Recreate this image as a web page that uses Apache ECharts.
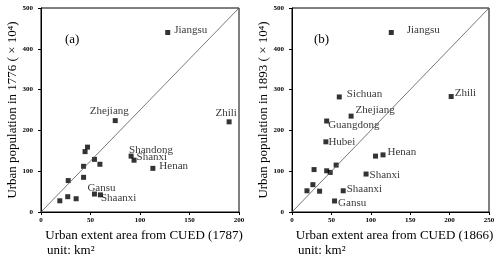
<!DOCTYPE html>
<html>
<head>
<meta charset="utf-8">
<script src="https://cdn.jsdelivr.net/npm/echarts@6/dist/echarts.min.js"></script>
<style>
html,body{margin:0;padding:0;background:#fff;}
#c{width:500px;height:258px;}
</style>
</head>
<body>
<div id="c"></div>
<script>
// ---- Data: panel (a) ----
const namesA = ['Jiangsu','Zhejiang','Zhili','Shandong','Shanxi','Henan','Gansu','Shaanxi','','','','','','','','','',''];
const areaA  = [128, 75, 190, 91, 94, 113, 54, 60, 47, 44.5, 54, 59.5, 43, 43, 27.5, 27, 35.5, 19];
const popA   = [440, 224, 221, 137, 127, 107, 44, 42, 159, 148, 129, 117, 112, 85, 77, 37.5, 32.5, 27.5];
// ---- Data: panel (b) ----
const namesB = ['Jiangsu','Sichuan','Zhili','Zhejiang','Guangdong','Hubei','Henan','','Shanxi','Shaanxi','Gansu','','','','','','',''];
const areaB  = [126, 60, 202, 75, 44, 43, 115.5, 106, 94, 65, 54, 28, 44, 48.5, 56, 26.5, 19, 35];
const popB   = [440, 282, 283, 235, 223, 172, 140, 137, 93, 52, 27, 104, 101, 97, 115, 67, 52, 51];
// ---- Axes ----
const xTicksA = [0, 50, 100, 150, 200];
const xTicksB = [0, 50, 100, 150, 200, 250];
const yTicks  = [0, 100, 200, 300, 400, 500];
const xTitleA = 'Urban extent area from CUED (1787)';
const xTitleB = 'Urban extent area from CUED (1866)';
const yTitleA = 'Urban population in 1776 ( \u00D7 10\u2074)';
const yTitleB = 'Urban population in 1893 ( \u00D7 10\u2074)';
const unitText = 'unit: km\u00B2';
const panelA = '(a)', panelB = '(b)';

// ---- Label styles (position only) ----
const labStyleA = {
  Jiangsu:  {position:'right', distance:4, offset:[0,-2]},
  Zhejiang: {position:'top', distance:1, offset:[-6,0]},
  Zhili:    {position:'top', distance:1, offset:[-3,0]},
  Shandong: {position:'top', distance:0, offset:[20,2]},
  Shanxi:   {position:'right', distance:0, offset:[0,-3]},
  Henan:    {position:'right', distance:4, offset:[0,-2]},
  Gansu:    {position:'top', distance:0, offset:[7,2]},
  Shaanxi:  {position:'right', distance:0, offset:[-2,3]}
};
const labStyleB = {
  Jiangsu:   {position:'right', distance:13, offset:[0,-2]},
  Sichuan:   {position:'right', distance:5, offset:[0,-3]},
  Zhili:     {position:'right', distance:1, offset:[0,-3]},
  Zhejiang:  {position:'right', distance:2, offset:[0,-6]},
  Guangdong: {position:'right', distance:-1, offset:[0,4]},
  Hubei:     {position:'right', distance:0, offset:[0,0]},
  Henan:     {position:'right', distance:2, offset:[0,-3]},
  Shanxi:    {position:'right', distance:1, offset:[0,1]},
  Shaanxi:   {position:'right', distance:1, offset:[0,-2]},
  Gansu:     {position:'right', distance:1, offset:[0,2]}
};

const FONT = '"Liberation Serif", "Times New Roman", serif';

function buildPoints(names, xs, ys, styles) {
  return xs.map((x, i) => {
    const n = names[i];
    const d = {value:[x, ys[i]], name:n};
    if (n && styles[n]) {
      d.label = Object.assign({show:true, formatter:n}, styles[n]);
    } else {
      d.label = {show:false};
    }
    return d;
  });
}

function xAxisCfg(grid, ticks, title) {
  return {
    type:'value', gridIndex:grid, min:ticks[0], max:ticks[ticks.length-1], interval:ticks[1]-ticks[0],
    name:title, nameLocation:'middle', nameGap:16,
    nameTextStyle:{fontFamily:FONT, fontSize:13, color:'#000', padding:[0,0,0,8]},
    axisLine:{show:true, onZero:false, lineStyle:{color:'#000', width:1}},
    axisTick:{show:true, length:3, lineStyle:{color:'#000'}},
    axisLabel:{fontFamily:FONT, fontSize:7, fontWeight:'bold', color:'#000', margin:5},
    splitLine:{show:false}
  };
}
function yAxisCfg(grid, ticks, title) {
  return {
    type:'value', gridIndex:grid, min:ticks[0], max:ticks[ticks.length-1], interval:ticks[1]-ticks[0],
    name:title, nameLocation:'middle', nameGap:22, nameRotate:90,
    nameTextStyle:{fontFamily:FONT, fontSize:13, color:'#000'},
    axisLine:{show:true, onZero:false, lineStyle:{color:'#000', width:1}},
    axisTick:{show:true, length:3, lineStyle:{color:'#000'}},
    axisLabel:{fontFamily:FONT, fontSize:7, fontWeight:'bold', color:'#000', margin:8},
    splitLine:{show:false}
  };
}

const labelBase = {fontFamily:FONT, fontSize:11, color:'#000'};

const chart = echarts.init(document.getElementById('c'), null, {renderer:'canvas'});
chart.setOption({
  animation:false,
  backgroundColor:'#fff',
  grid:[
    {left:41, top:8, width:198, height:204, show:true, borderColor:'#000', borderWidth:1, backgroundColor:'transparent'},
    {left:292, top:8, width:197, height:204, show:true, borderColor:'#000', borderWidth:1, backgroundColor:'transparent'}
  ],
  xAxis:[xAxisCfg(0, xTicksA, xTitleA), xAxisCfg(1, xTicksB, xTitleB)],
  yAxis:[yAxisCfg(0, yTicks, yTitleA), yAxisCfg(1, yTicks, yTitleB)],
  series:[
    {type:'line', xAxisIndex:0, yAxisIndex:0, symbol:'none', silent:true,
     lineStyle:{color:'#555', width:0.8},
     data:[[xTicksA[0], yTicks[0]], [xTicksA[xTicksA.length-1], yTicks[yTicks.length-1]]]},
    {type:'line', xAxisIndex:1, yAxisIndex:1, symbol:'none', silent:true,
     lineStyle:{color:'#555', width:0.8},
     data:[[xTicksB[0], yTicks[0]], [xTicksB[xTicksB.length-1], yTicks[yTicks.length-1]]]},
    {type:'scatter', xAxisIndex:0, yAxisIndex:0, symbol:'rect', symbolSize:5,
     itemStyle:{color:'#000'}, label:labelBase,
     data:buildPoints(namesA, areaA, popA, labStyleA)},
    {type:'scatter', xAxisIndex:1, yAxisIndex:1, symbol:'rect', symbolSize:5,
     itemStyle:{color:'#000'}, label:labelBase,
     data:buildPoints(namesB, areaB, popB, labStyleB)}
  ],
  graphic:[
    {type:'text', left:65, top:33, style:{text:panelA, font:'13px ' + FONT, fill:'#000'}},
    {type:'text', left:314, top:33, style:{text:panelB, font:'13px ' + FONT, fill:'#000'}},
    {type:'text', left:47, top:244, style:{text:unitText, font:'13px ' + FONT, fill:'#000'}},
    {type:'text', left:298, top:244, style:{text:unitText, font:'13px ' + FONT, fill:'#000'}}
  ]
});
</script>
</body>
</html>
